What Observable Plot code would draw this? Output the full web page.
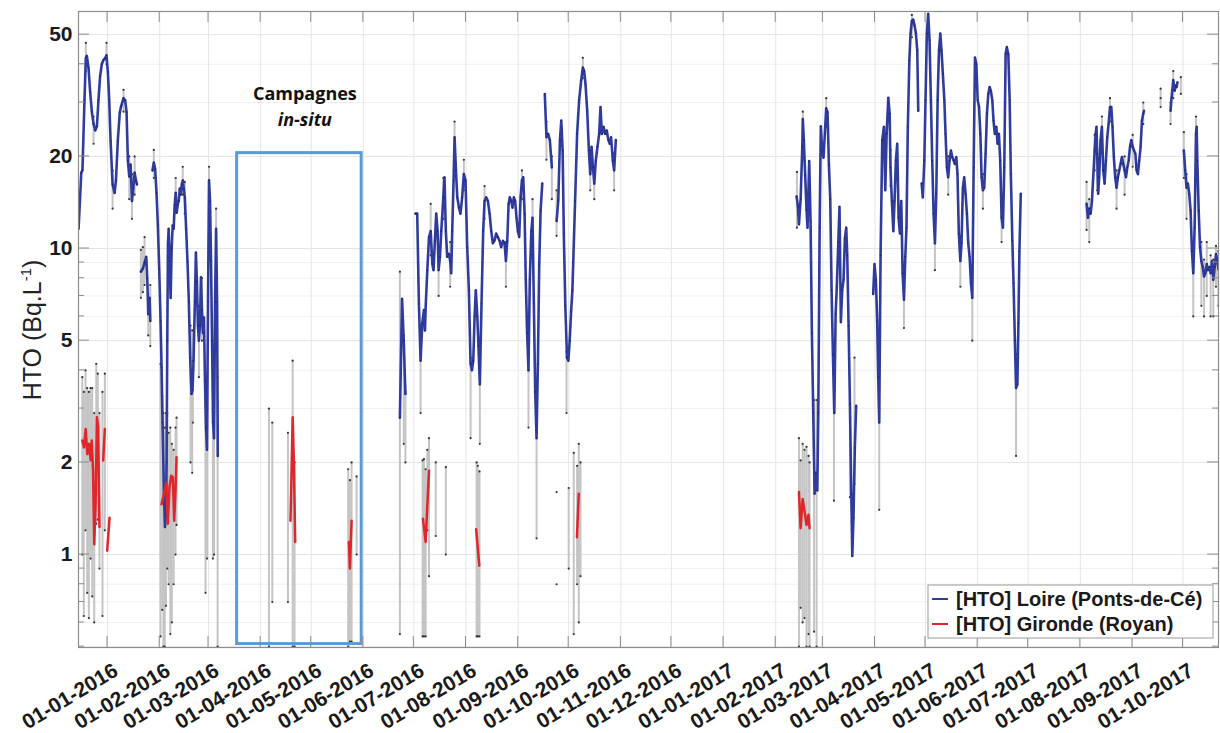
<!DOCTYPE html>
<html><head><meta charset="utf-8">
<script src="https://cdn.jsdelivr.net/npm/d3@7"></script>
<script src="https://cdn.jsdelivr.net/npm/@observablehq/plot@0.6"></script>
<style>
body{margin:0;background:#fff;}
#chart{position:relative;width:1220px;height:733px;}
</style></head><body><div id="chart"></div>
<script>
// ---------- DATA (day = days since 2016-01-01, value in Bq/L) ----------
const loireDayHTO = [
 [-17.2,11.6],[-15.6,17.7],[-14.9,18.0],[-13.7,30.5],[-12.9,41.9],[-12.3,42.6],[-11.3,38.9],[-10.3,32.4],[-9.3,27.9],[-8.3,25.5],[-7.3,24.3],[-6.3,25.1],[-5.4,30.5],[-4.4,36.6],[-3.4,40.1],[-2.4,41.3],[-1.4,41.9],[-0.6,42.8],[0.2,37.7],[1.0,30.5],[1.8,22.5],[3.0,16.2],[4.2,15.2],[5.0,16.7],[6.1,22.5],[7.3,27.9],[8.1,29.2],[9.5,31.0],[10.5,30.5],[11.3,27.9],[12.1,19.4],[12.9,17.2],[13.7,18.8],[14.5,14.3],[15.3,15.7],[16.1,17.7],[16.9,16.7],[17.5,16.2],
 [null,null],
 [19.8,8.4],[21.0,8.6],[22.0,9.0],[23.0,9.4],[23.6,8.0],[24.2,6.1],[25.0,6.9],[25.4,5.8],
 [null,null],
 [26.7,18.0],[27.5,19.1],[28.3,18.2],[29.1,15.2],[29.9,11.9],[30.7,8.6],[31.5,5.8],[32.1,4.1],[32.7,2.7],[33.5,1.6],[34.1,1.23],[34.7,1.35],[35.1,2.0],[35.5,5.0],[35.9,10.3],[36.3,11.6],[36.9,9.1],[37.5,6.9],[38.1,10.0],[38.7,11.9],[39.3,11.6],[39.9,13.9],[40.5,15.2],[41.1,13.1],[41.7,13.9],[42.3,14.3],[42.9,15.7],[43.5,15.0],[44.1,16.2],[44.7,16.7],[45.3,15.7],[45.9,14.7],[46.7,11.6],[47.5,9.1],[48.3,6.7],[49.1,4.4],[49.9,3.35],[50.5,3.45],[51.1,4.3],[51.9,6.7],[52.5,9.7],[53.1,7.8],[53.7,5.6],[54.3,5.0],[54.9,5.6],[55.5,8.05],[56.1,6.3],[56.7,5.3],[57.3,5.95],[57.9,3.7],[58.5,2.6],[59.1,2.2],[59.7,6.7],[60.3,16.7],[60.9,14.3],[61.5,9.1],[62.1,5.0],[62.7,2.7],[63.3,2.4],[63.9,6.7],[64.5,11.6],[65.1,6.7],[65.5,2.1],
 [null,null],
 [173.7,2.8],[175.0,6.85],[176.0,5.0],[177.0,3.35],
 [null,null],
 [183.0,13.0],[184.0,13.0],[185.0,6.6],[186.0,4.3],[187.0,5.7],[188.0,6.3],[188.6,5.4],[189.1,6.6],[190.0,8.5],[191.0,10.9],[192.0,11.4],[193.0,8.9],[193.7,8.5],[194.5,10.6],[195.3,13.0],[196.1,11.4],[196.7,8.5],[197.5,9.4],[198.3,11.4],[199.5,14.7],[200.2,17.1],[201.0,11.4],[201.8,9.4],[202.8,9.6],[203.6,9.1],[204.2,8.3],[204.8,11.4],[205.6,16.7],[206.2,23.1],[207.0,18.0],[207.8,14.7],[208.8,13.6],[209.7,13.0],[210.7,14.7],[211.7,17.5],[212.7,16.7],[213.7,10.1],[214.7,7.3],[215.7,4.2],[216.5,4.0],[217.3,4.3],[218.1,6.0],[218.8,7.3],[219.7,6.0],[220.4,4.8],[221.2,3.6],[222.2,6.6],[223.2,11.4],[224.0,14.3],[225.0,14.7],[226.0,14.3],[227.0,13.0],[228.0,11.4],[228.9,10.4],[229.9,10.6],[230.9,11.2],[231.9,10.9],[232.9,10.6],[233.9,10.1],[234.9,10.6],[235.9,10.4],[236.7,9.1],[237.5,10.6],[238.3,14.0],[239.0,14.7],[239.9,14.3],[240.6,13.6],[241.4,14.7],[242.2,14.3],[243.0,12.6],[243.8,11.4],[244.6,10.9],[245.4,14.7],[246.2,16.7],[247.0,17.1],[247.8,13.0],[248.5,7.9],[249.3,5.3],[250.1,4.0],[250.9,7.9],[251.8,11.4],[252.5,12.6],[253.3,6.6],[254.1,3.4],[254.9,2.4],[255.7,4.2],[256.5,8.9],[257.3,13.3],[258.3,16.3],
 [null,null],
 [259.8,32.0],[260.8,23.1],[261.8,23.7],[262.8,22.6],[264.0,18.4],
 [null,null],
 [266.8,12.3],[267.8,14.3],[268.8,22.6],[269.6,26.2],[270.4,20.9],[271.1,11.2],[272.0,6.5],[273.0,4.4],[273.8,4.3],[274.6,5.0],[275.4,6.2],[276.2,7.3],[277.8,14.3],[279.0,23.7],[280.2,30.5],[281.4,35.4],[282.4,39.0],[283.2,38.0],[284.0,34.4],[285.0,28.2],[286.0,20.9],[286.8,17.5],[287.6,21.5],[288.4,18.4],[289.2,16.3],[290.1,19.4],[291.1,21.5],[292.1,23.7],[292.9,29.0],[293.7,23.7],[294.7,25.0],[295.7,23.7],[296.6,24.3],[297.6,22.6],[298.4,22.0],[299.2,23.1],[300.2,19.4],[301.0,18.0],[302.0,22.6],
 [null,null],
 [409.4,14.8],[410.2,13.7],[410.8,12.0],[411.8,14.5],[412.8,21.5],[413.1,26.5],[413.7,22.6],[414.5,17.4],[415.3,13.4],[415.9,11.7],[416.9,19.3],[417.7,12.3],[418.5,5.3],[419.3,2.9],[420.1,1.58],[420.9,1.85],[421.7,1.62],[422.3,2.9],[423.1,11.7],[423.8,25.1],[424.6,20.9],[425.4,19.8],[426.2,23.8],[427.0,28.7],[427.8,27.9],[428.6,18.8],[429.4,14.5],[430.2,7.3],[431.0,4.5],[431.8,2.9],[432.6,6.1],[433.3,7.5],[434.2,10.5],[434.9,13.7],[435.7,5.75],[436.5,7.3],[437.3,7.9],[438.1,10.8],[438.9,11.7],[439.5,9.5],[440.3,5.6],[441.1,3.1],[441.9,1.58],[442.5,0.99],[443.2,1.32],[444.0,2.23],[444.8,3.06],
 [null,null],
 [454.9,7.1],[455.7,8.9],[456.5,7.9],[457.3,5.8],[457.9,3.8],[458.5,2.7],[459.3,9.5],[460.3,22.6],[461.3,25.0],[462.1,15.5],[462.9,23.7],[463.9,31.1],[464.7,27.6],[465.2,18.4],[466.0,14.3],[466.9,11.4],[467.6,14.3],[468.4,19.4],[469.2,22.0],[470.0,12.6],[470.8,11.2],[471.6,14.3],[472.4,8.3],[473.2,6.8],[474.0,9.4],[474.7,11.7],[475.5,25.0],[476.4,41.1],[477.1,50.4],[477.9,55.5],[478.7,56.0],[479.5,53.5],[480.3,50.4],[481.1,44.4],[481.7,28.2],
 [null,null],
 [483.7,16.3],[484.4,14.7],[485.3,19.4],[486.0,30.5],[486.8,50.4],[487.6,58.5],[488.4,47.9],[489.2,30.5],[490.0,19.4],[490.8,13.0],[491.6,10.4],[492.4,15.1],[493.2,30.5],[494.0,44.4],[494.8,50.4],[495.5,44.4],[496.3,37.2],[497.2,30.5],[497.9,23.7],[498.7,18.4],[499.5,17.1],[500.3,19.4],[501.1,20.9],[501.9,19.9],[502.7,19.4],[503.4,18.9],[504.3,19.9],[505.0,17.5],[505.8,11.2],[506.7,9.1],[507.4,10.4],[508.2,15.8],[509.0,17.1],[509.8,15.1],[510.6,13.0],[511.4,10.4],[512.2,9.4],[513.0,7.7],[513.8,6.9],[514.6,18.4],[515.4,42.1],[516.2,40.0],[517.0,30.5],[517.8,29.0],[518.6,23.7],[519.3,17.1],[520.1,15.5],[520.9,15.8],[521.7,20.4],[522.5,27.6],[523.3,32.0],[524.1,33.7],[524.8,32.8],[525.7,30.5],[526.4,26.2],[527.2,23.7],[528.1,25.0],[528.8,22.0],[529.6,23.7],[530.4,19.4],[531.2,12.6],[532.0,11.7],[532.8,18.4],[533.6,43.2],[534.3,45.5],[535.2,43.2],[536.0,30.5],[536.7,17.5],[537.6,10.6],[538.3,7.7],[539.1,5.0],[539.8,3.5],[540.6,3.6],[541.2,5.7],[541.8,9.8],[542.6,15.1],
 [null,null],
 [581.7,14.0],[582.5,12.6],[583.3,13.5],[584.1,13.0],[584.9,14.3],[586.5,20.9],[587.1,23.7],[587.6,25.0],[588.0,20.4],[588.6,15.1],[589.2,17.1],[590.0,22.6],[590.8,25.0],[591.6,18.0],[592.4,16.3],[593.2,19.4],[594.0,23.1],[594.8,25.6],[595.6,29.0],[596.4,29.0],[597.1,25.0],[597.9,19.9],[598.7,17.1],[599.5,15.8],[600.3,17.1],[601.1,18.0],[601.9,18.9],[602.7,19.9],[603.5,18.9],[604.3,18.0],[605.1,17.1],[605.9,18.4],[606.7,19.4],[607.5,21.5],[608.3,22.6],[609.1,21.5],[609.9,20.9],[610.7,20.4],[611.4,18.0],[612.2,17.5],[613.0,19.4],[613.8,21.5],[614.6,26.2],[615.4,27.6],[615.8,28.2],
 [null,null],
 [631.6,28.2],[632.2,31.2],[633.2,35.5],[634.0,32.8],[634.6,34.1],[635.2,33.7],[635.7,34.9],
 [null,null],
 [639.5,20.9],[640.3,18.0],[641.1,15.8],[641.9,16.3],[642.7,15.1],[643.5,13.3],[644.3,9.8],[645.1,8.3],[645.9,11.7],[646.7,23.7],[647.1,25.0],[647.5,19.4],[648.3,13.3],[649.1,10.1],[649.9,9.1],[650.7,8.7],[651.5,8.1],[652.3,8.3],[653.1,8.9],[653.8,8.5],[654.7,8.7],[655.4,8.3],[656.2,9.1],[657.0,7.9],[657.8,8.7],[658.6,9.6],[659.4,9.1],[660.2,8.5]
];

const girondeDayHTO = [
 [-15.0,2.36],[-14.0,2.24],[-13.0,2.57],[-12.0,2.13],[-11.0,2.30],[-10.0,2.03],[-9.4,2.36],[-8.6,1.88],[-7.9,1.08],[-7.1,1.46],[-6.3,2.81],[-5.6,2.61],[-4.8,1.23],
 [null,null],
 [-2.6,2.03],[-1.6,2.57],
 [null,null],
 [-0.2,1.03],[1.2,1.32],
 [null,null],
 [32.1,1.46],[33.5,1.58],[34.9,1.72],[35.8,1.26],[36.8,1.66],[37.8,1.81],[38.8,1.79],[39.6,1.29],[40.4,1.62],[41.0,2.08],
 [null,null],
 [108.7,1.29],[110.0,2.81],[110.7,2.03],[111.5,1.10],
 [null,null],
 [143.4,1.10],[144.0,0.90],[145.0,1.29],
 [null,null],
 [187.4,1.31],[189.0,1.10],[191.0,1.88],
 [null,null],
 [219.0,1.21],[220.9,0.92],
 [null,null],
 [278.9,1.14],[280.0,1.58],
 [null,null],
 [410.8,1.60],[411.8,1.22],[413.0,1.52],[414.1,1.39],[415.3,1.25],[416.5,1.35],[417.1,1.22]
];

// error bars: [day, low, high]
const errorBars = [
 [-15.0,1.0,3.8],[-14.1,0.63,3.4],[-13.1,1.2,4.0],[-12.1,0.75,3.5],[-11.1,0.62,3.4],[-10.1,0.97,3.5],[-9.1,0.73,3.5],[-7.9,0.6,2.9],[-6.7,1.26,4.2],[-5.8,1.3,3.9],[-4.8,0.9,2.9],[-3.0,0.63,3.4],[-1.6,1.2,3.9],
 [-12.9,38,47],[-0.6,40,47],[-8.3,22,27],[3.0,13.5,18],[12.9,14.5,20],[14.5,12.5,17.5],[16.1,15,20],[9.5,28,33],
 [19.8,6.9,9.9],[21.0,7.2,10.1],[22.0,7.6,10.9],[24.2,5.2,7.1],[25.4,4.8,7.6],
 [31.5,0.54,4.2],[32.5,0.66,3.3],[33.2,0.5,2.9],[34.0,0.5,2.6],[34.7,0.68,2.9],[35.5,0.9,2.9],[36.3,0.8,2.5],[37.3,0.55,2.6],[38.2,0.6,2.3],[39.3,0.8,2.2],[40.4,1.0,2.6],[41.0,1.25,2.8],
 [27.5,17,21],[40.5,13.5,17],[44.7,15,18.5],[45.9,13,16.5],
 [49.3,2.0,5.6],[50.3,1.85,5.4],[50.7,2.7,4.3],[54.3,3.8,6.5],[56.1,5.0,8.0],[58.2,0.75,3.7],[59.1,0.97,3.8],[62.6,0.97,3.8],[63.3,1.0,3.8],[65.4,0.5,3.8],[60.3,15.0,18.5],[64.5,10.0,13.5],
 [95.9,0.5,3.0],[97.9,0.70,2.7],[107.2,0.70,2.5],[110.0,0.5,4.3],[111.1,0.5,2.0],[143.0,0.5,1.9],[144.0,0.52,1.75],[145.0,0.52,2.0],[148.0,1.0,1.8],
 [173.7,0.55,8.4],[176.0,2.3,5.2],[177.0,2.0,3.4],[186.0,2.9,5.6],[187.2,0.54,2.03],[188.0,0.54,2.05],[189.0,0.54,1.9],[190.0,1.2,2.2],[191.0,0.85,2.4],[195.0,1.15,2.0],[201.0,1.0,1.93],
 [219.3,0.54,2.0],[220.0,0.54,1.95],[221.0,0.54,1.87],[215.7,2.4,4.4],[221.2,2.3,3.6],[250.1,2.6,4.0],[254.9,1.13,2.6],
 [192.0,9.5,14],[196.7,7,10],[199.5,12.5,17],[203.6,7.5,10.5],[206.2,20.5,26],[211.7,15.5,19.5],[224.0,12.5,16],[236.7,7.5,10.5],[246.2,14.5,18],[252.5,11,14.5],
 [272.7,2.9,4.6],[274.0,0.9,1.65],[277.0,0.55,2.15],[279.0,0.8,1.95],[280.0,0.6,2.3],[281.0,0.85,2.0],[260.8,19.5,26],[264.0,14.5,20],[266.8,11,15.5],
 [282.4,36,42],[286.8,15.5,20],[289.2,14.5,18.5],[301.0,15.5,20.5],
 [409.6,11.7,17.8],[410.8,0.5,2.4],[411.8,0.67,2.03],[413.0,0.6,2.3],[414.1,0.62,2.2],[415.3,0.5,2.25],[416.5,0.55,2.1],[417.1,0.5,2.0],[419.8,0.56,3.2],[421.3,0.5,3.2],[431.6,1.5,3.5],[441.1,1.54,3.1],[443.8,1.7,4.4],[427.0,25,31],[413.1,22,28],
 [458.5,1.4,3.0],[465.2,16,21],[473.2,5.5,8.5],[477.9,49,58],
 [491.6,8.5,12.5],[499.5,15,20],[506.7,7.5,11],[513.8,5.0,8.5],[520.1,13.5,17.5],[531.2,10.5,14.5],[539.8,2.1,4.5],
 [581.7,11.5,16.5],[583.3,10.5,14.5],[586.5,18,23.5],[588.0,15.5,21],[590.8,20.5,27],[595.6,26,31],[599.5,13.5,18],[604.3,15,20],[609.1,18.5,23.5],[615.4,25.5,30],
 [625.7,29.0,33.3],[637.7,32.0,36.3],[633.2,31,38],[631.6,25.5,30],
 [639.5,17,24],[641.1,12.5,17.5],[645.1,6.0,9.5],[646.7,20,27],[649.9,6.5,10.5],[651.5,6.0,9.2],[653.1,7.0,10.5],[655.4,6.0,9.5],[657.0,6.0,9.2],[658.6,7.5,10.2],[660.0,6.5,9.8]
];

// isolated markers without a line (day, value)
const isolatedDayHTO = [[266.8,1.6],[266.8,0.8],[625.7,31.0]];

const yTickValues = [1, 2, 5, 10, 20, 50];
const yMinorValues = [0.5,0.6,0.7,0.8,0.9,3,4,6,7,8,9,30,40];
const monthTicks = ["2016-01-01","2016-02-01","2016-03-01","2016-04-01","2016-05-01","2016-06-01","2016-07-01","2016-08-01","2016-09-01","2016-10-01","2016-11-01","2016-12-01","2017-01-01","2017-02-01","2017-03-01","2017-04-01","2017-05-01","2017-06-01","2017-07-01","2017-08-01","2017-09-01","2017-10-01"];
const campaign = {start:"2016-03-18", end:"2016-05-31", low:0.51, high:20.5};
const seriesNames = ["[HTO] Loire (Ponts-de-Cé)", "[HTO] Gironde (Royan)"];
const yLabelMain = "HTO (Bq.L";
const yLabelSup = "-1";

// ---------- BUILD ----------
const base = Date.UTC(2016,0,1);
const toDate = d => d == null ? null : new Date(base + d*864e5);
const loire = loireDayHTO.map(([d,v]) => ({date: toDate(d), v}));
const gironde = girondeDayHTO.map(([d,v]) => ({date: toDate(d), v}));
const errs = errorBars.map(([d,lo,hi]) => ({date: toDate(d), lo, hi}));
const caps = errs.flatMap(e => [{date:e.date, v:e.lo}, {date:e.date, v:e.hi}]);
const isolated = isolatedDayHTO.map(([d,v]) => ({date: toDate(d), v}));
const months = monthTicks.map(s => new Date(s + "T00:00:00Z"));
const fmtMonth = d3.utcFormat("%d-%m-%Y");

const BLUE = "#2f3c9e", RED = "#e1262b", GREY = "#c4c4c4", FRAME = "#8c8c8c";

const chart = Plot.plot({
  width: 1220, height: 733,
  marginTop: 11, marginLeft: 78, marginRight: 2, marginBottom: 86,
  style: {fontFamily: "'Liberation Sans', Arial, sans-serif", background: "#fff", overflow: "visible"},
  x: {type: "utc", axis: null, domain: [new Date("2015-12-14T18:00:00Z"), new Date("2017-10-22T02:00:00Z")]},
  y: {type: "log", domain: [0.497, 59.5]},
  marks: [
    Plot.ruleY(yMinorValues, {stroke: "#f0f0f0", strokeWidth: 1}),
    Plot.ruleY(yTickValues, {stroke: "#e4e4e4", strokeWidth: 1}),
    Plot.ruleX(months, {stroke: "#e6e6e6", strokeWidth: 1}),
    Plot.ruleX(errs, {x: "date", y1: "lo", y2: "hi", stroke: GREY, strokeWidth: 2, clip: true}),
    Plot.dot(caps, {x: "date", y: "v", r: 1.1, fill: "#333", stroke: null, clip: true}),
    Plot.dot(isolated, {x: "date", y: "v", r: 1.1, fill: "#333", stroke: null, clip: true}),
    Plot.line(loire, {x: "date", y: "v", stroke: BLUE, strokeWidth: 2.6, clip: true}),
    Plot.dot(loire.filter(d => d.v != null), {x: "date", y: "v", r: 0.8, fill: "#1d2360", stroke: null, clip: true}),
    Plot.line(gironde, {x: "date", y: "v", stroke: RED, strokeWidth: 2.5, clip: true}),
    Plot.rect([campaign], {x1: d => new Date(d.start + "T00:00:00Z"), x2: d => new Date(d.end + "T00:00:00Z"), y1: "low", y2: "high", fill: "none", stroke: "#5b9bd5", strokeWidth: 3}),
    Plot.text(["Campagnes"], {x: new Date("2016-04-27T06:00:00Z"), y: 31.9, text: d => d, fontFamily: "'Open Sans', sans-serif", fontWeight: "bold", fontSize: 18, fill: "#111"}),
    Plot.text(["in-situ"], {x: new Date("2016-04-27T06:00:00Z"), y: 26.3, text: d => d, fontFamily: "'Open Sans', sans-serif", fontWeight: "bold", fontStyle: "italic", fontSize: 18, fill: "#111"}),
    Plot.frame({stroke: FRAME, strokeWidth: 1.2}),
    // x tick labels: rotated, end-anchored at each month tick
    Plot.text(months, {x: d => d, frameAnchor: "bottom", dx: 12, dy: 27, rotate: -31, textAnchor: "end", lineAnchor: "bottom",
      text: d => fmtMonth(d), fontSize: 21, fontWeight: "bold", fill: "#1a1a1a"}),
    Plot.axisY(yTickValues, {tickFormat: d => String(d), tickSize: 0, tickPadding: 6, fontSize: 21, fontWeight: "bold", label: null})
  ]
});
document.getElementById("chart").appendChild(chart);

// ---------- decorations using the plot's own scales ----------
const svg = d3.select(chart);
const xs = chart.scale("x"), ys = chart.scale("y");
const [L, R] = xs.range, [B, T] = ys.range;
svg.selectAll('g[aria-label="y-axis tick label"] text').attr("fill", "#1a1a1a");

const deco = svg.append("g").attr("stroke", FRAME).attr("stroke-width", 1);
for (const m of months) {
  const px = xs.apply(m);
  deco.append("line").attr("x1", px).attr("x2", px).attr("y1", B).attr("y2", B - 11);
  deco.append("line").attr("x1", px).attr("x2", px).attr("y1", T).attr("y2", T + 11);
}
for (const v of yTickValues) {
  const py = ys.apply(v);
  deco.append("line").attr("x1", L).attr("x2", L + 11).attr("y1", py).attr("y2", py);
  deco.append("line").attr("x1", R).attr("x2", R - 11).attr("y1", py).attr("y2", py);
}
for (const v of yMinorValues) {
  const py = ys.apply(v);
  deco.append("line").attr("x1", L).attr("x2", L + 6).attr("y1", py).attr("y2", py);
  deco.append("line").attr("x1", R).attr("x2", R - 6).attr("y1", py).attr("y2", py);
}

// y label with superscript
const yl = svg.append("text")
  .attr("transform", `translate(41,${(T + B) / 2 + 1}) rotate(-90)`)
  .attr("text-anchor", "middle")
  .attr("font-family", "'Liberation Sans', Arial, sans-serif")
  .attr("font-size", 25).attr("fill", "#222");
yl.append("tspan").text(yLabelMain);
yl.append("tspan").attr("font-size", 15).attr("dy", -10).text(yLabelSup);
yl.append("tspan").attr("dy", 10).text(")");

// legend
const lg = svg.append("g").attr("transform", "translate(928,585)");
lg.append("rect").attr("width", 285).attr("height", 53).attr("fill", "#fff").attr("stroke", "#9a9a9a").attr("stroke-width", 1);
[[BLUE, seriesNames[0]], [RED, seriesNames[1]]].forEach(([c, t], i) => {
  const cy = 14 + i * 25;
  lg.append("line").attr("x1", 4).attr("x2", 20).attr("y1", cy).attr("y2", cy).attr("stroke", c).attr("stroke-width", 2);
  lg.append("text").attr("x", 28).attr("y", cy).attr("dy", "0.36em").attr("text-anchor", "start")
    .attr("font-family", "'Liberation Sans', Arial, sans-serif")
    .attr("font-weight", "bold").attr("font-size", 20).attr("fill", "#1a1a1a").text(t);
});
</script>
</body></html>
